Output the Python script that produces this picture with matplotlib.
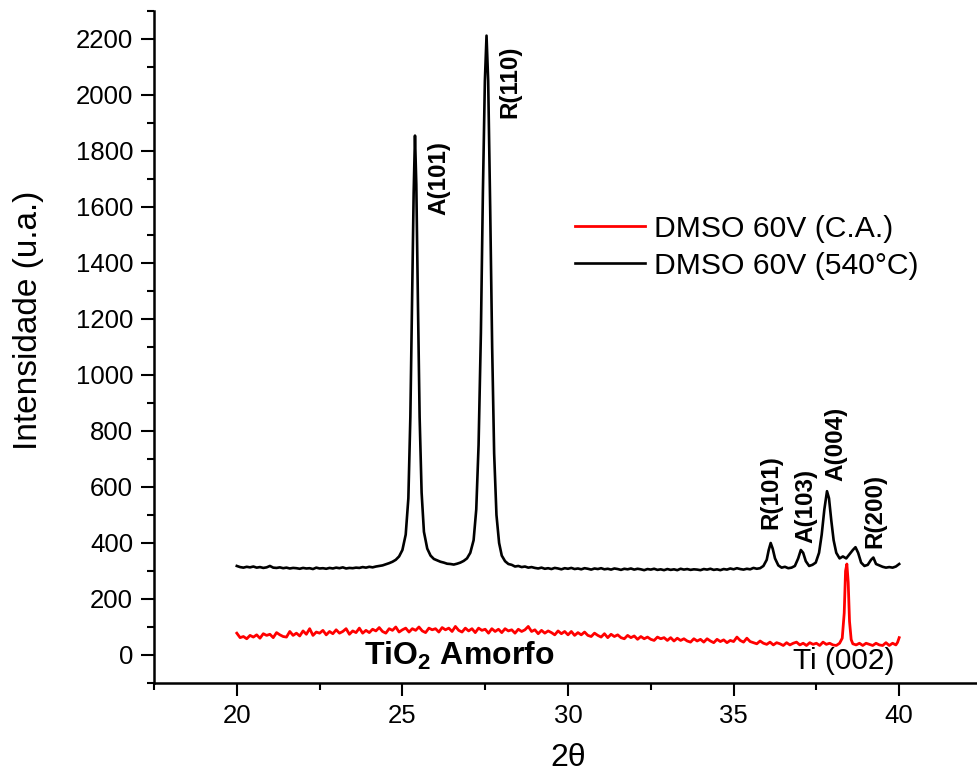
import numpy as np
import matplotlib
matplotlib.use("Agg")
import matplotlib.pyplot as plt
from matplotlib.ticker import MultipleLocator

plt.rcParams['font.family'] = ['Liberation Sans', 'DejaVu Sans']

# DMSO 60V (540 C) -- annealed sample, 2theta / intensity
tt_540 = [20.0, 20.1, 20.2, 20.3, 20.4, 20.5, 20.6, 20.7, 20.8, 20.9,
          21.0, 21.1, 21.2, 21.3, 21.4, 21.5, 21.6, 21.7, 21.8, 21.9,
          22.0, 22.1, 22.2, 22.3, 22.4, 22.5, 22.6, 22.7, 22.8, 22.9,
          23.0, 23.1, 23.2, 23.3, 23.4, 23.5, 23.6, 23.7, 23.8, 23.9,
          24.0, 24.1, 24.2, 24.3, 24.4, 24.5, 24.6, 24.7, 24.8, 24.9,
          25.0, 25.1, 25.18, 25.24, 25.29, 25.34, 25.38, 25.42, 25.47, 25.52,
          25.58, 25.65, 25.75, 25.85, 25.95, 26.05, 26.15, 26.25, 26.35, 26.45,
          26.55, 26.65, 26.75, 26.85, 26.95, 27.05, 27.15, 27.23, 27.3, 27.37,
          27.43, 27.49, 27.54, 27.59, 27.65, 27.71, 27.77, 27.84, 27.92, 28.0,
          28.1, 28.2, 28.3, 28.4, 28.5, 28.6, 28.7, 28.8, 28.9,
          29.0, 29.1, 29.2, 29.3, 29.4, 29.5, 29.6, 29.7, 29.8, 29.9,
          30.0, 30.1, 30.2, 30.3, 30.4, 30.5, 30.6, 30.7, 30.8, 30.9,
          31.0, 31.1, 31.2, 31.3, 31.4, 31.5, 31.6, 31.7, 31.8, 31.9,
          32.0, 32.1, 32.2, 32.3, 32.4, 32.5, 32.6, 32.7, 32.8, 32.9,
          33.0, 33.1, 33.2, 33.3, 33.4, 33.5, 33.6, 33.7, 33.8, 33.9,
          34.0, 34.1, 34.2, 34.3, 34.4, 34.5, 34.6, 34.7, 34.8, 34.9,
          35.0, 35.1, 35.2, 35.3, 35.4, 35.5, 35.6, 35.7, 35.8, 35.9,
          36.0, 36.06, 36.12, 36.18, 36.25, 36.35, 36.45, 36.55, 36.65, 36.75,
          36.85, 36.95, 37.03, 37.1, 37.18, 37.28, 37.38, 37.48, 37.58, 37.66,
          37.74, 37.82, 37.88, 37.95, 38.02, 38.1, 38.2, 38.3, 38.4, 38.5,
          38.6, 38.68, 38.76, 38.85, 38.95, 39.05, 39.15, 39.22, 39.3, 39.4,
          39.5, 39.6, 39.7, 39.8, 39.9, 40.0]
int_540 = [318, 314, 312, 315, 313, 316, 312, 314, 311, 313,
           318, 312, 311, 313, 310, 312, 309, 311, 310, 308,
           311, 309, 310, 307, 312, 309, 310, 308, 311, 309,
           312, 310, 313, 309, 311, 310, 312, 311, 314, 312,
           315, 313, 316, 318, 320, 324, 328, 333, 340, 352,
           375, 430, 560, 850, 1250, 1650, 1855, 1680, 1250, 850,
           580, 440, 380, 355, 343, 338, 333, 330, 326, 325,
           323, 326, 330, 336, 345, 365, 410, 520, 750, 1150,
           1650, 2050, 2212, 2050, 1600, 1100, 720, 500, 400, 355,
           335, 325, 322, 316, 318, 314, 316, 312, 314,
           311, 309, 312, 308, 310, 307, 311, 309, 306, 310,
           308, 311, 307, 309, 306, 310, 308, 305, 309, 307,
           310, 306, 308, 305, 309, 307, 304, 308, 306, 309,
           305, 308, 306, 303, 307, 305, 308, 304, 306, 303,
           307, 304, 306, 303, 308, 305, 307, 304, 306, 305,
           303, 307, 305, 308, 304, 306, 303, 307, 305, 309,
           306, 310, 307, 305, 308, 306, 311, 308, 310, 318,
           340, 375, 400, 380, 345, 320, 312, 315, 310, 312,
           318, 345, 375, 365, 335, 318, 322, 330, 365, 430,
           520, 585, 560, 480, 410, 365, 345, 352, 345, 360,
           375, 385, 365, 330, 318, 322, 340, 348, 325, 320,
           315, 312, 314, 312, 316, 325]

# DMSO 60V (C.A.) -- as-anodized (amorphous) sample
tt_ca = [20.0, 20.1, 20.2, 20.3, 20.4, 20.5, 20.6, 20.7, 20.8, 20.9,
         21.0, 21.1, 21.2, 21.3, 21.4, 21.5, 21.6, 21.7, 21.8, 21.9,
         22.0, 22.1, 22.2, 22.3, 22.4, 22.5, 22.6, 22.7, 22.8, 22.9,
         23.0, 23.1, 23.2, 23.3, 23.4, 23.5, 23.6, 23.7, 23.8, 23.9,
         24.0, 24.1, 24.2, 24.3, 24.4, 24.5, 24.6, 24.7, 24.8, 24.9,
         25.0, 25.1, 25.2, 25.3, 25.4, 25.5, 25.6, 25.7, 25.8, 25.9,
         26.0, 26.1, 26.2, 26.3, 26.4, 26.5, 26.6, 26.7, 26.8, 26.9,
         27.0, 27.1, 27.2, 27.3, 27.4, 27.5, 27.6, 27.7, 27.8, 27.9,
         28.0, 28.1, 28.2, 28.3, 28.4, 28.5, 28.6, 28.7, 28.8, 28.9,
         29.0, 29.1, 29.2, 29.3, 29.4, 29.5, 29.6, 29.7, 29.8, 29.9,
         30.0, 30.1, 30.2, 30.3, 30.4, 30.5, 30.6, 30.7, 30.8, 30.9,
         31.0, 31.1, 31.2, 31.3, 31.4, 31.5, 31.6, 31.7, 31.8, 31.9,
         32.0, 32.1, 32.2, 32.3, 32.4, 32.5, 32.6, 32.7, 32.8, 32.9,
         33.0, 33.1, 33.2, 33.3, 33.4, 33.5, 33.6, 33.7, 33.8, 33.9,
         34.0, 34.1, 34.2, 34.3, 34.4, 34.5, 34.6, 34.7, 34.8, 34.9,
         35.0, 35.1, 35.2, 35.3, 35.4, 35.5, 35.6, 35.7, 35.8, 35.9,
         36.0, 36.1, 36.2, 36.3, 36.4, 36.5, 36.6, 36.7, 36.8, 36.9,
         37.0, 37.1, 37.2, 37.3, 37.4, 37.5, 37.6, 37.7, 37.8, 37.9,
         38.0, 38.1, 38.2, 38.28, 38.34, 38.38, 38.42, 38.46, 38.5, 38.55,
         38.6, 38.7, 38.8, 38.9, 39.0, 39.1, 39.2, 39.3, 39.4, 39.5,
         39.6, 39.7, 39.8, 39.9, 39.95, 40.0]
int_ca = [78, 62, 66, 58, 70, 64, 72, 60, 76, 70,
          74, 62, 80, 72, 66, 64, 84, 70, 78, 68,
          86, 74, 94, 70, 82, 78, 88, 72, 84, 76,
          90, 78, 84, 94, 74, 86, 80, 96, 78, 88,
          80, 92, 86, 98, 84, 78, 94, 88, 100, 82,
          90, 96, 82, 94, 88, 100, 86, 80, 96, 90,
          94, 82, 98, 90, 96, 84, 102, 88, 82, 96,
          86, 94, 80, 96, 88, 92, 78, 94, 84, 92,
          80, 94, 86, 90, 78, 92, 84, 90, 102, 84,
          90, 76, 88, 78, 86, 80, 72, 86, 76, 84,
          72, 84, 70, 80, 72, 82, 70, 66, 78, 70,
          64, 76, 62, 74, 66, 72, 62, 58, 70, 62,
          68, 56, 66, 58, 64, 56, 52, 64, 58, 62,
          52, 62, 50, 60, 52, 58, 50, 46, 58, 50,
          56, 46, 58, 50, 44, 56, 48, 54, 44, 52,
          48, 64, 52, 46, 60, 48, 44, 40, 50, 42,
          38, 46, 36, 44, 40, 34, 44, 36, 42, 46,
          36, 42, 34, 44, 38, 42, 34, 46, 38, 42,
          36, 34, 42, 60, 150, 300, 325, 260, 120, 55,
          40, 36, 42, 34, 42, 38, 34, 42, 36, 34,
          44, 34, 42, 36, 45, 62]

# peak labels: text, 2theta, intensity
peak_text = ['A(101)', 'R(110)', 'R(101)', 'A(103)', 'A(004)', 'R(200)']
peak_tt = [26.1, 28.26, 36.12, 37.18, 38.08, 39.28]
peak_int = [1704, 2048, 582, 533, 753, 515]

fig = plt.figure(figsize=(9.77, 7.76), dpi=100)
ax = fig.add_axes([154 / 977, 1 - 683 / 776, 828 / 977, 672 / 776])

ax.plot(tt_ca, int_ca, color='#ff0000', lw=2.0, label='DMSO 60V (C.A.)')
ax.plot(tt_540, int_540, color='black', lw=1.9, label='DMSO 60V (540°C)')

for t, x, y in zip(peak_text, peak_tt, peak_int):
    ax.text(x, y, t, rotation=90, fontsize=17.5, fontweight='bold',
            ha='center', va='center')

ax.text(26.72, -3, 'TiO$_\\mathregular{2}$ Amorfo', fontsize=23, fontweight='bold',
        ha='center', va='center')
ax.text(38.33, -21, 'Ti (002)', fontsize=21.5, ha='center', va='center')

ax.set_xlim(17.5, 42.5)
ax.set_ylim(-100, 2300)
ax.set_xticks([20, 25, 30, 35, 40])
ax.xaxis.set_minor_locator(MultipleLocator(2.5))
ax.set_yticks(np.arange(0, 2201, 200))
ax.yaxis.set_minor_locator(MultipleLocator(100))

for s in ['top', 'right']:
    ax.spines[s].set_visible(False)
for s in ['left', 'bottom']:
    ax.spines[s].set_linewidth(1.8)

ax.tick_params(which='major', direction='out', length=9.5, width=1.5,
               labelsize=18.5, pad=5.5)
ax.tick_params(which='minor', direction='out', length=5, width=1.5)

ax.set_xlabel('2θ', fontsize=23)
ax.set_ylabel('Intensidade (u.a.)', fontsize=24)
ax.xaxis.set_label_coords(0.5, -0.09)
ax.yaxis.set_label_coords(-0.133, 0.54)

ax.legend(loc='upper left', bbox_to_anchor=(0.508, 0.697), frameon=False,
          fontsize=21.7, handlelength=2.35, handletextpad=0.3, labelspacing=0.3,
          borderpad=0, borderaxespad=0)

fig.savefig('out.png', dpi=100)
